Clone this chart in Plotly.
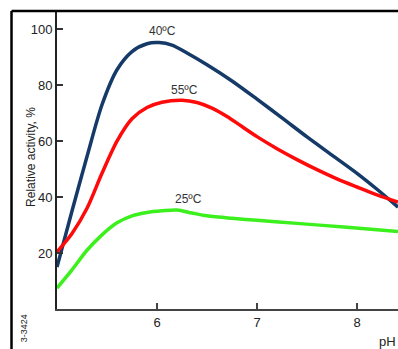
import plotly.graph_objects as go

ph_40 = [5.00, 5.15, 5.30, 5.45, 5.60, 5.75, 5.90, 6.02, 6.15, 6.30, 6.50, 6.75, 7.00, 7.25, 7.50, 7.75, 8.00, 8.20, 8.41]
act_40 = [15, 35, 54.5, 73, 85.5, 92, 94.8, 95.2, 94.3, 91.5, 87.3, 81.5, 75, 68.3, 61.5, 55, 48.5, 42.8, 36.4]

ph_55 = [5.00, 5.15, 5.30, 5.45, 5.60, 5.75, 5.90, 6.05, 6.25, 6.40, 6.55, 6.70, 6.85, 7.00, 7.20, 7.40, 7.60, 7.80, 8.00, 8.20, 8.41]
act_55 = [20.4, 27, 36, 48.5, 60, 68, 72, 73.9, 74.6, 73.8, 71.8, 68.8, 65.2, 61.6, 57.3, 53.4, 49.8, 46.5, 43.6, 40.8, 38.2]

ph_25 = [5.00, 5.15, 5.30, 5.45, 5.60, 5.75, 5.90, 6.05, 6.20, 6.35, 6.50, 6.75, 7.00, 7.40, 7.90, 8.41]
act_25 = [7.5, 14, 21, 26.5, 30.8, 33.3, 34.5, 35.1, 35.4, 34.3, 33.3, 32.4, 31.7, 30.6, 29.2, 27.7]

series = [
    ("40ºC", ph_40, act_40, "#163a68"),
    ("55ºC", ph_55, act_55, "#ff0a0a"),
    ("25ºC", ph_25, act_25, "#3cf01e"),
]
labels = [("40ºC", 6.05, 99.3), ("55ºC", 6.27, 78.2), ("25ºC", 6.31, 39.3)]

x_ticks = [6, 7, 8]
y_ticks = [20, 40, 60, 80, 100]

fig = go.Figure()
for name, xs, ys, col in series:
    fig.add_trace(go.Scatter(x=xs, y=ys, mode="lines", name=name,
                             line=dict(color=col, width=3.5, shape="spline", smoothing=0.8),
                             hoverinfo="skip", showlegend=False))

for txt, lx, ly in labels:
    fig.add_annotation(x=lx, y=ly, text=txt, showarrow=False,
                       font=dict(family="Liberation Sans, Arial", size=12, color="#333"))

font = dict(family="Liberation Sans, Arial", size=13, color="#222")
fig.update_layout(
    width=398, height=349,
    margin=dict(l=57, r=0, t=11, b=40),
    paper_bgcolor="white", plot_bgcolor="white",
    font=font,
    xaxis=dict(range=[5.0, 8.41], tickvals=x_ticks, ticks="inside", ticklen=6, tickwidth=1.5,
               tickcolor="#444", showline=True, linecolor="#444", linewidth=2,
               showgrid=False, zeroline=False, tickfont=font),
    yaxis=dict(range=[0, 106.5], tickvals=y_ticks, ticks="inside", ticklen=6, tickwidth=1.5,
               tickcolor="#333", showline=True, linecolor="#222", linewidth=2,
               showgrid=False, zeroline=False, tickfont=font),
)

# outer frame
fig.add_shape(type="line", xref="paper", yref="paper", x0=-0.1334, x1=1.0, y0=1.0, y1=1.0,
              line=dict(color="black", width=2.5))
fig.add_shape(type="line", xref="paper", yref="paper", x0=-0.1334, x1=-0.1334, y0=1.0, y1=-0.2,
              line=dict(color="black", width=2.5))

fig.add_annotation(xref="paper", yref="paper", x=-0.1026, y=0.685, text="Relative activity, %",
                   textangle=-90, showarrow=False, font=dict(family="Liberation Sans, Arial", size=12, color="#222"))
fig.add_annotation(xref="paper", yref="paper", x=1.0, xanchor="right", y=-0.077, yanchor="top", text="pH",
                   showarrow=False, font=dict(family="Liberation Sans, Arial", size=13, color="#222"))
fig.add_annotation(xref="paper", yref="paper", x=-0.118, y=-0.012, yanchor="top", text="3-3424",
                   textangle=-90, showarrow=False, font=dict(family="Liberation Sans, Arial", size=9, color="#222"))

fig.write_html("out.html")
